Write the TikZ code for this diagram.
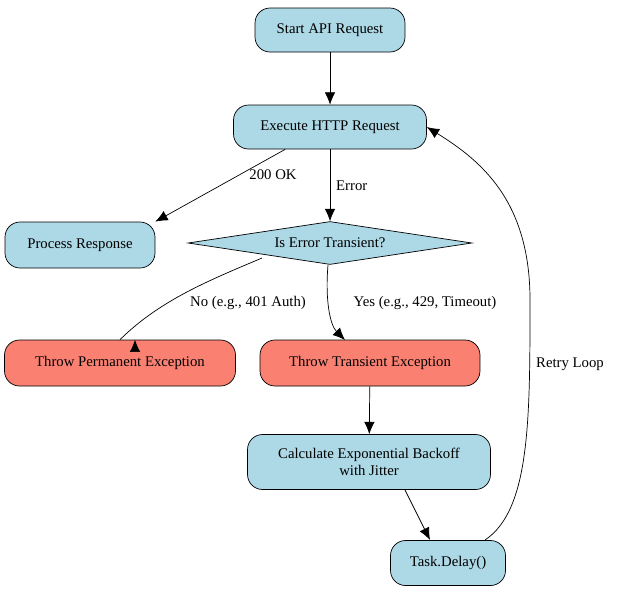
\documentclass[tikz,border=0pt]{standalone}
\usepackage{fontspec}
\setmainfont{Liberation Serif}
\usetikzlibrary{shapes.geometric,arrows.meta}
\begin{document}
\begin{tikzpicture}[x=0.02cm,y=-0.02cm,
  every node/.style={font=\fontsize{8.4}{10}\selectfont},
  box/.style={draw,rounded corners=0.3cm,fill=#1,align=center,minimum height=0.88cm,inner sep=2pt},
  box/.default={blue!20!cyan!25!white},
  arr/.style={-{Latex[length=7pt,width=6pt]},thin},
  lbl/.style={fill=none}]
\definecolor{lb}{HTML}{ADD8E6}\definecolor{sal}{HTML}{FA8072}
\useasboundingbox (0,0) rectangle (618,593);
\node[box=lb,minimum width=3cm] (start) at (330,30) {Start API Request};
\node[box=lb,minimum width=3.86cm] (exec) at (330,127) {Execute HTTP Request};
\node[box=lb,minimum width=3cm,minimum height=0.92cm] (proc) at (80,245) {Process Response};
\node[draw,diamond,fill=lb,aspect=6.6,inner sep=0pt,minimum width=5.68cm,minimum height=0.86cm] (dia) at (330,243) {Is Error Transient?};
\node[box=sal,minimum width=4.62cm,minimum height=0.92cm] (perm) at (120,363) {Throw Permanent Exception};
\node[box=sal,minimum width=4.4cm,minimum height=0.92cm] (trans) at (370,363) {Throw Transient Exception};
\node[box=lb,minimum width=4.86cm,minimum height=1.1cm] (calc) at (369,462) {Calculate Exponential Backoff\\with Jitter};
\node[box=lb,minimum width=2.3cm,minimum height=0.9cm] (delay) at (448,563) {Task.Delay()};
\coordinate (r1) at (530,300);
\draw[arr] (start) -- (exec);
\draw[arr] (exec.south west) ++(52,0) coordinate (e1) -- (proc.north east) node[pos=0.35,right=2pt,lbl] {200 OK};
\draw[arr] (exec) -- (dia) node[midway,right,lbl] {Error};
\draw[arr] (262,258) .. controls (210,280) and (160,300) .. (perm.north) ++(15,0);
\node[lbl] at (248,303) {No (e.g., 401 Auth)};
\draw[arr] (328,265) .. controls (325,300) and (330,325) .. (345,340);
\node[lbl] at (425,303) {Yes (e.g., 429, Timeout)};
\draw[arr] (trans) -- (calc);
\draw[arr] (405,490) -- (430,540);
\draw[arr] (485,540) .. controls (530,510) and (530,420) .. (530,300) .. controls (530,200) and (480,160) .. (exec.east);
\node[lbl] at (570,364) {Retry Loop};
\end{tikzpicture}
\end{document}
